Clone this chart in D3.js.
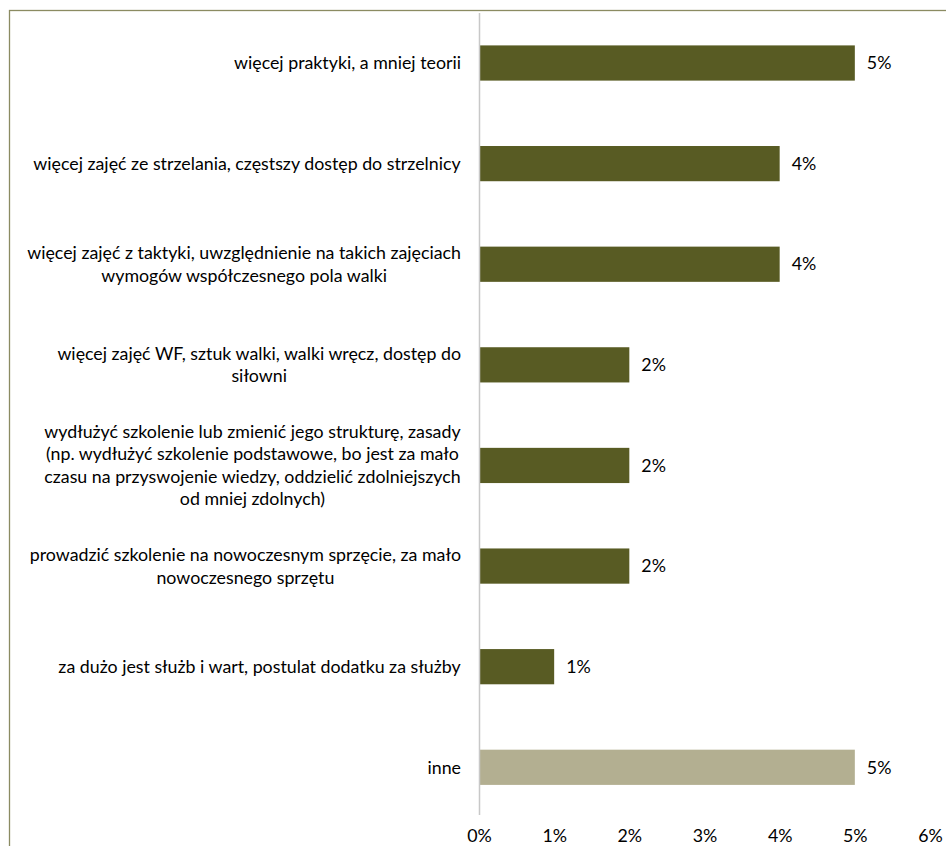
<!DOCTYPE html>
<html><head><meta charset="utf-8">
<script src="https://cdn.jsdelivr.net/npm/d3@7"></script>
<style>
html,body{margin:0;padding:0;background:#fff;}
svg{display:block;}
</style></head>
<body>
<script>
const categories = [
  ["więcej praktyki, a mniej teorii"],
  ["więcej zajęć ze strzelania, częstszy dostęp do strzelnicy"],
  ["więcej zajęć z taktyki, uwzględnienie na takich zajęciach", "wymogów współczesnego pola walki"],
  ["więcej zajęć WF, sztuk walki, walki wręcz, dostęp do", "siłowni"],
  ["wydłużyć szkolenie lub zmienić jego strukturę, zasady", "(np. wydłużyć szkolenie podstawowe, bo jest za mało", "czasu na przyswojenie wiedzy, oddzielić zdolniejszych", "od mniej zdolnych)"],
  ["prowadzić szkolenie na nowoczesnym sprzęcie, za mało", "nowoczesnego sprzętu"],
  ["za dużo jest służb i wart, postulat dodatku za służby"],
  ["inne"]
];
const values = [5, 4, 4, 2, 2, 2, 1, 5];
const valueLabels = ["5%", "4%", "4%", "2%", "2%", "2%", "1%", "5%"];
const isOther = [false, false, false, false, false, false, false, true];
const tickValues = [0, 1, 2, 3, 4, 5, 6];
const tickLabels = ["0%", "1%", "2%", "3%", "4%", "5%", "6%"];

const FONT = "Lato, sans-serif";
const FS = "17.8px";

const W = 946, H = 846;
const svg = d3.select("body").append("svg").attr("width", W).attr("height", H)
  .style("font-family", FONT).style("font-size", FS);

svg.append("rect").attr("x", 9.5).attr("y", 10.5).attr("width", 1000).attr("height", 1000)
  .attr("fill", "none").attr("stroke", "#8b8b62").attr("stroke-width", 1.3);

const x0 = 479, x1 = 930, yTop = 12.7, yBot = 817.6;
const x = d3.scaleLinear().domain([0, 6]).range([x0, x1]);
const y = d3.scaleBand().domain(d3.range(categories.length)).range([yTop, yBot]).paddingInner(0.65).paddingOuter(0.325);

svg.append("g").selectAll("rect").data(values).join("rect")
  .attr("x", x(0)).attr("y", (d, i) => y(i))
  .attr("width", d => x(d) - x(0)).attr("height", y.bandwidth())
  .attr("fill", (d, i) => isOther[i] ? "#b3af91" : "#585b23");

svg.append("g").selectAll("text").data(values).join("text")
  .attr("x", d => x(d) + 12).attr("y", (d, i) => y(i) + y.bandwidth() / 2)
  .attr("dy", "0.35em").text((d, i) => valueLabels[i]);

svg.append("line").attr("x1", x0 + 0.5).attr("x2", x0 + 0.5).attr("y1", 13).attr("y2", 815)
  .attr("stroke", "#c8c8c8").attr("stroke-width", 1.5);

const lh = 22.5;
const lab = svg.append("g");
categories.forEach((lines, i) => {
  const cy = y(i) + y.bandwidth() / 2;
  const g = lab.append("g");
  const t = g.append("text").attr("text-anchor", "middle");
  lines.forEach((s, k) => {
    t.append("tspan").attr("x", 0).attr("y", cy + (k - (lines.length - 1) / 2) * lh).attr("dy", "0.35em").text(s);
  });
  const bb = t.node().getBBox();
  g.attr("transform", `translate(${461 - bb.width / 2},0)`);
});

const ax = svg.append("g").attr("transform", `translate(0,${yBot})`)
  .call(d3.axisBottom(x).tickValues(tickValues).tickFormat((d, i) => tickLabels[i]).tickSize(0).tickPadding(12));
ax.select(".domain").remove();
ax.attr("font-family", null).attr("font-size", null);
ax.selectAll("text").attr("fill", "#000");
</script>
</body></html>
